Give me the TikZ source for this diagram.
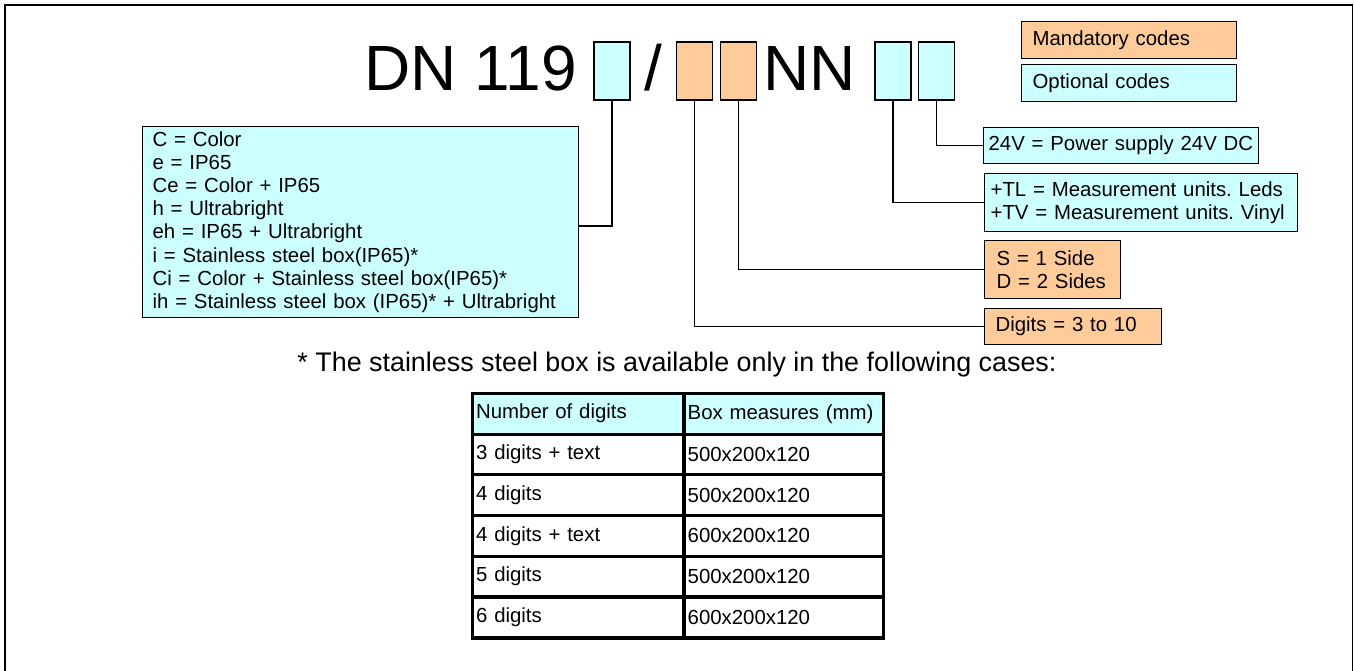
\documentclass[tikz,border=0pt]{standalone}
\usepackage{fontspec}
\setmainfont{Liberation Sans}
\definecolor{optcol}{HTML}{CCFFFF}
\definecolor{mandcol}{HTML}{FFCC99}

\begin{document}
\begin{tikzpicture}[x=0.02cm,y=-0.02cm]
        \tikzstyle{every node}=[font=\fontsize{11.6}{13.2}\selectfont\frenchspacing]
        \tikzstyle{slot}=[draw, line width=0.7pt, minimum width=0.72cm, minimum height=1.16cm, inner sep=0pt]
        \tikzstyle{code}=[draw, line width=0.7pt, anchor=north west, align=left, inner ysep=0pt]
        \tikzstyle{link}=[line width=0.9pt]
        \tikzstyle{cell}=[draw, line width=0.9pt, minimum height=0.783cm, inner xsep=0.06cm, inner ysep=0pt, outer sep=0pt, align=left]

        \useasboundingbox (0,0) rectangle (1354,670);
        \draw[line width=1.1pt] (5,5) rectangle (1352.5,690);

        \node   (dn)   [anchor=base east, inner sep=0pt, font=\fontsize{36.4}{40}\selectfont] at (577,90) {DN 119};
        \node   (sl)   [anchor=base, inner sep=0pt, font=\fontsize{36.4}{40}\selectfont] at (653,90) {/};
        \node   (nn)   [anchor=base west, inner sep=0pt, font=\fontsize{36.4}{40}\selectfont] at (763,90) {NN};

        \node   (s1)   [slot, fill=optcol]  at (612,71) {};
        \node   (s2)   [slot, fill=mandcol] at (694.5,71) {};
        \node   (s3)   [slot, fill=mandcol] at (738.5,71) {};
        \node   (s4)   [slot, fill=optcol]  at (893,71) {};
        \node   (s5)   [slot, fill=optcol]  at (936.5,71) {};

        \node   (mand) [code, fill=mandcol, text width=3.86cm, inner xsep=0.22cm, minimum height=0.74cm] at (1021,21) {Mandatory codes};
        \node   (opt)  [code, fill=optcol, text width=3.86cm, inner xsep=0.22cm, minimum height=0.74cm] at (1021,64) {Optional codes};

        \node   (colbox) [code, fill=optcol, text width=8.32cm, inner xsep=0.2cm, minimum height=3.82cm] at (142,126)
                {C = Color\\ e = IP65\\ Ce = Color + IP65\\ h = Ultrabright\\ eh = IP65 + Ultrabright\\
                 i = Stainless steel box(IP65)*\\ Ci = Color + Stainless steel box(IP65)*\\
                 ih = Stainless steel box (IP65)* + Ultrabright};
        \node   (pwr)  [code, fill=optcol, text width=5.3cm, inner xsep=0.1cm, minimum height=0.72cm] at (983,127) {24V = Power supply 24V DC};
        \node   (unit) [code, fill=optcol, text width=6.02cm, inner xsep=0.12cm, minimum height=1.16cm] at (984,173)
                {+TL = Measurement units. Leds\\ +TV = Measurement units. Vinyl};
        \node   (side) [code, fill=mandcol, text width=2.24cm, inner xsep=0.24cm, minimum height=1.16cm] at (984,240)
                {S = 1 Side\\ D = 2 Sides};
        \node   (dig)  [code, fill=mandcol, text width=3.10cm, inner xsep=0.22cm, minimum height=0.72cm] at (984,308) {Digits = 3 to 10};

        \draw[link] (s1.south) |- ([yshift=-0.08cm]colbox.east);
        \draw[link] (s2.south) |- (dig.west);
        \draw[link] (s3.south) |- (side.west);
        \draw[link] (s4.south) |- (unit.west);
        \draw[link] (s5.south) |- (pwr.west);

        \node   (note) [font=\fontsize{15.3}{18}\selectfont] at (677,365)
                {* The stainless steel box is available only in the following cases:};

        \matrix (tab) [anchor=north west, inner sep=0pt, draw=none] at (472,393) {
            \node (h1) [cell, fill=optcol, text width=4.08cm] {Number of digits}; &
            \node (h2) [cell, fill=optcol, text width=3.84cm] {Box measures (mm)}; \\
            \node (r1a) [cell, text width=4.08cm] {3 digits + text}; &
            \node (r1b) [cell, text width=3.84cm] {500x200x120}; \\
            \node (r2a) [cell, text width=4.08cm] {4 digits}; &
            \node (r2b) [cell, text width=3.84cm] {500x200x120}; \\
            \node (r3a) [cell, text width=4.08cm] {4 digits + text}; &
            \node (r3b) [cell, text width=3.84cm] {600x200x120}; \\
            \node (r4a) [cell, text width=4.08cm] {5 digits}; &
            \node (r4b) [cell, text width=3.84cm] {500x200x120}; \\
            \node (r5a) [cell, text width=4.08cm] {6 digits}; &
            \node (r5b) [cell, text width=3.84cm] {600x200x120}; \\
        };
        \draw[line width=1.7pt] (tab.north west) rectangle (tab.south east);
        \draw[line width=1.7pt] (h2.north west) -- (r5b.south west);

    \end{tikzpicture}
\end{document}
